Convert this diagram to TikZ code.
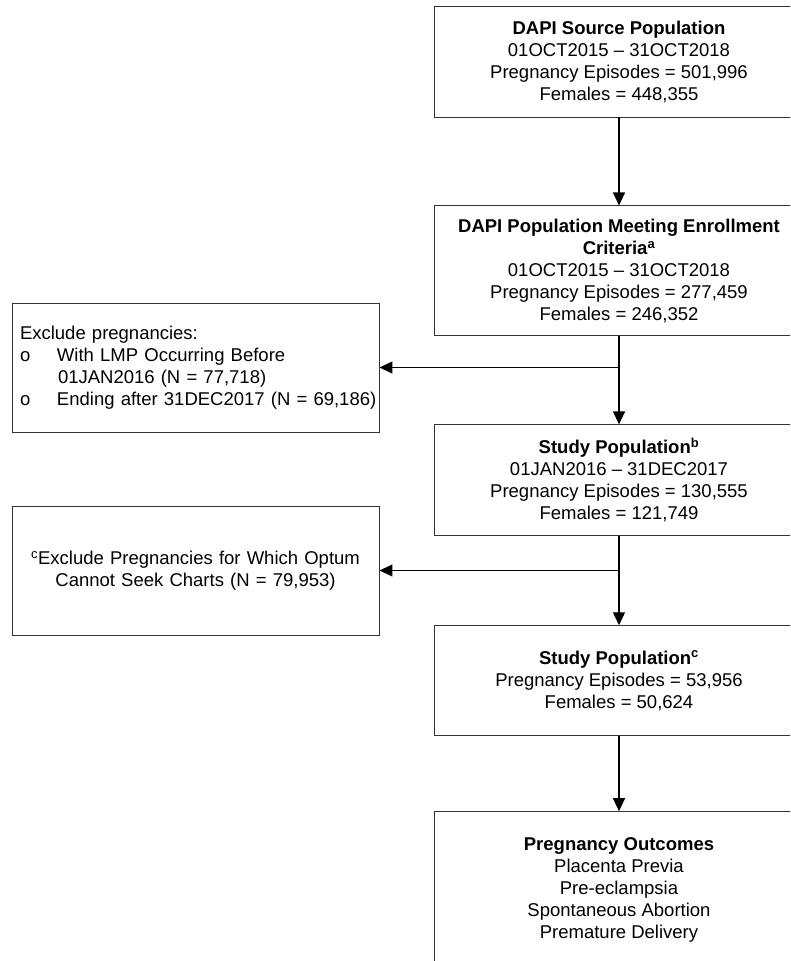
\documentclass[tikz,border=0pt]{standalone}
\usepackage{fontspec}
\setmainfont{Liberation Sans}
\usetikzlibrary{arrows.meta,positioning}

\begin{document}
\begin{tikzpicture}[
    x=1pt, y=-1pt,
    node distance=88pt,
    every node/.style={font=\fontsize{18.5}{22}\selectfont},
    block/.style={rectangle, draw=black!80, line width=0.9pt, align=center, minimum width=370pt, minimum height=111pt},
    exclude/.style={rectangle, draw=black!80, line width=0.9pt, text width=351pt, minimum width=367pt, minimum height=129pt},
    arrow/.style={-{Triangle[width=12pt,length=13pt]}, line width=1.3pt}
]
\useasboundingbox (0,0) rectangle (790,961);
\clip (0,0) rectangle (790,961);

\node[block] (source) at (619,61.5) {\textbf{DAPI Source Population} \\ 01OCT2015 – 31OCT2018 \\ Pregnancy Episodes = 501,996 \\ Females = 448,355};
\node[block, minimum height=130pt, below=of source] (enroll) {\textbf{DAPI Population Meeting Enrollment} \\ \textbf{Criteria\textsuperscript{a}} \\ 01OCT2015 – 31OCT2018 \\ Pregnancy Episodes = 277,459 \\ Females = 246,352};
\node[block, below=of enroll] (study) {\textbf{Study Population\textsuperscript{b}} \\ 01JAN2016 – 31DEC2017 \\ Pregnancy Episodes = 130,555 \\ Females = 121,749};
\node[block, minimum height=110pt, below=89pt of study] (studyc) {\textbf{Study Population\textsuperscript{c}} \\ Pregnancy Episodes = 53,956 \\ Females = 50,624};
\node[block, minimum height=156pt, below=75pt of studyc] (outcome) {\textbf{Pregnancy Outcomes} \\ Placenta Previa \\ Pre-eclampsia \\ Spontaneous Abortion \\ Premature Delivery};

\node[exclude, align=left] (exclA) at (195.5,367.5) {Exclude pregnancies: \\ \makebox[37pt][l]{o}With LMP Occurring Before \\ \hspace*{38pt}01JAN2016 (N = 77,718) \\ \mbox{\makebox[37pt][l]{o}Ending after 31DEC2017 (N = 69,186)}};
\node[exclude, align=center] (exclB) at (195.5,570.5) {\textsuperscript{c}Exclude Pregnancies for Which Optum \\ Cannot Seek Charts (N = 79,953)};

\draw[arrow] (source) -- (enroll);
\draw[arrow] (enroll) -- (study);
\draw[arrow] (study) -- (studyc);
\draw[arrow] (studyc) -- (outcome);
\draw[arrow] (enroll.south |- exclA.east) -- (exclA.east);
\draw[arrow] (study.south |- exclB.east) -- (exclB.east);

\end{tikzpicture}
\end{document}
